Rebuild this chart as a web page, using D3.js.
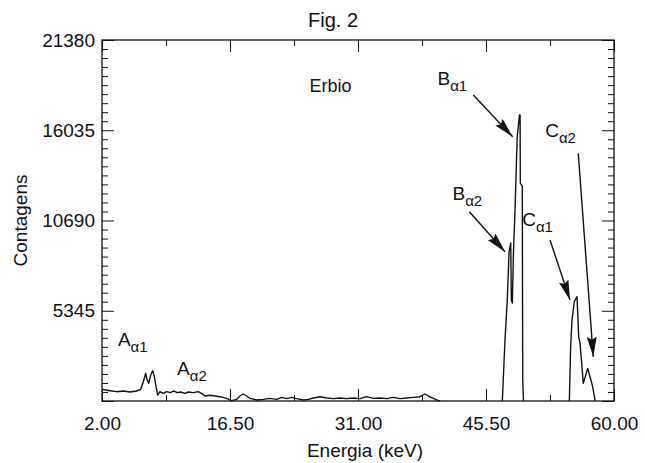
<!DOCTYPE html>
<html>
<head>
<meta charset="utf-8">
<script src="https://cdn.jsdelivr.net/npm/d3@7"></script>
<style>
  body { margin: 0; background: #fff; }
  svg { font-family: 'Liberation Sans', Arial, Helvetica, sans-serif; }
  .axis text { font-size: 19px; fill: #111; }
  .axis line, .axis path { stroke: #111; }
</style>
</head>
<body>
<svg id="chart" width="645" height="463"></svg>
<script>
/* axis ranges and tick values */
const xDomain = [2, 60]
const yDomain = [0, 21380]
const xMajor = [2, 16.5, 31, 45.5, 60]
const xMinor = [9.25, 23.75, 38.25, 52.75]
const yMajor = [0, 5345, 10690, 16035, 21380]
const yMinorStep = 534.5

/* spectrum: [energy keV, counts] */
const lowEnergy = [
  [2.0, 693], [2.91, 610], [3.66, 552], [4.41, 592], [5.17, 533], [5.93, 592],
  [6.38, 693], [6.68, 1143], [6.95, 1640], [7.10, 1285], [7.29, 1048], [7.52, 1540],
  [7.74, 1795], [7.93, 1441], [8.12, 848], [8.31, 355], [8.57, 552], [8.94, 454],
  [9.33, 552], [9.70, 493], [10.16, 592], [10.53, 493], [10.91, 533], [11.40, 454],
  [11.78, 533], [12.34, 493], [12.91, 552], [13.29, 454], [13.67, 296], [14.23, 338],
  [14.80, 296], [15.37, 255], [16.12, 158], [16.69, 20], [17.26, 99], [17.63, 296],
  [18.01, 415], [18.39, 296], [18.76, 158], [19.52, 59], [20.27, 99], [21.03, 158],
  [21.79, 99], [22.36, 217], [22.92, 138], [23.49, 217], [24.06, 138], [24.80, 59],
  [25.37, 99], [25.94, 178], [26.70, 255], [27.45, 178], [28.20, 138], [28.96, 178],
  [29.72, 138], [30.47, 178], [31.23, 138], [31.98, 255], [32.74, 158], [33.49, 178],
  [34.25, 138], [35.00, 217], [35.76, 138], [36.51, 178], [37.27, 217], [38.02, 255],
  [38.59, 415], [38.96, 296], [39.53, 158], [40.10, 20], [40.30, 0]
]
const peakB = [
  [47.35, 0], [47.65, 3612], [47.91, 5981], [48.11, 8824], [48.30, 9357],
  [48.37, 5981], [48.48, 5800], [48.62, 8942], [48.79, 11311], [48.98, 14687],
  [49.04, 15634], [49.29, 16937], [49.36, 16937], [49.39, 12910], [49.61, 12732],
  [49.66, 1244], [49.75, 0]
]
const peakC = [
  [54.94, 0], [55.09, 3216], [55.24, 4797], [55.50, 5880], [55.70, 6080],
  [55.81, 6177], [55.89, 5193], [56.00, 3809], [56.15, 3415], [56.34, 2232],
  [56.52, 1047], [56.75, 1441], [57.02, 1934], [57.28, 1441], [57.58, 848],
  [57.85, 59], [57.88, 0]
]

/* peak labels: letter, subscript, label anchor and arrow [from, to] in data units */
const peakLabels = [
  { main: 'A', sub: '\u03b11', at: [3.8, 3280], arrow: null },
  { main: 'A', sub: '\u03b12', at: [10.5, 1540], arrow: null },
  { main: 'B', sub: '\u03b12', at: [41.7, 11900], arrow: [[43.61, 11210], [47.65, 8842]] },
  { main: 'B', sub: '\u03b11', at: [40.0, 18720], arrow: [[44.06, 18121], [48.52, 15652]] },
  { main: 'C', sub: '\u03b11', at: [49.6, 10340], arrow: [[52.75, 9534], [55.01, 5981]] },
  { main: 'C', sub: '\u03b12', at: [52.2, 15640], arrow: [[55.95, 14669], [57.65, 2623]] }
]

/* dimensions */
const margin = { top: 40, left: 102, right: 31, bottom: 62 }
const width = 645 - margin.left - margin.right
const height = 463 - margin.top - margin.bottom

const svg = d3.select('#chart')
const g = svg.append('g').attr('transform', `translate(${margin.left}, ${margin.top})`)

const xScale = d3.scaleLinear().domain(xDomain).range([0, width])
const yScale = d3.scaleLinear().domain(yDomain).range([height, 0])

const yMinor = d3.range(yDomain[0], yDomain[1], yMinorStep).filter((v) => !yMajor.includes(v))

/* fn: draw one side of ticks (inward) */
function tickSide(axisFn, scale, values, size, transform, labels) {
  const ax = axisFn(scale).tickValues(values).tickSizeInner(-size).tickSizeOuter(0)
  if (labels) ax.tickPadding(7).tickFormat(labels)
  else ax.tickFormat('')
  const sel = g.append('g').attr('class', 'axis').attr('transform', transform).call(ax)
  sel.select('.domain').remove()
  return sel
}

/* x axes: bottom with labels, top without */
tickSide(d3.axisBottom, xScale, xMajor, 12, `translate(0, ${height})`, d3.format('.2f'))
  .selectAll('text').attr('dy', '1.15em')
tickSide(d3.axisBottom, xScale, xMinor, 6, `translate(0, ${height})`, null)
tickSide(d3.axisTop, xScale, xMajor, 12, 'translate(0, 0)', null)
tickSide(d3.axisTop, xScale, xMinor, 6, 'translate(0, 0)', null)

/* y axes: left with labels (no zero), right without */
tickSide(d3.axisLeft, yScale, yMajor, 12, 'translate(0, 0)', (d) => (d === 0 ? '' : d))
tickSide(d3.axisLeft, yScale, yMinor, 6, 'translate(0, 0)', null)
tickSide(d3.axisRight, yScale, yMajor, 12, `translate(${width}, 0)`, null)
tickSide(d3.axisRight, yScale, yMinor, 6, `translate(${width}, 0)`, null)

/* frame */
g.append('rect')
  .attr('width', width).attr('height', height)
  .attr('fill', 'none').attr('stroke', '#111').attr('stroke-width', 1.3)

/* spectrum */
const specLine = d3.line().x((d) => xScale(d[0])).y((d) => yScale(d[1]))
g.selectAll('path.spec')
  .data([lowEnergy, peakB, peakC])
  .join('path')
  .attr('class', 'spec')
  .attr('d', specLine)
  .attr('fill', 'none')
  .attr('stroke', '#111')
  .attr('stroke-width', 1.4)
  .attr('stroke-linejoin', 'round')

/* arrowhead marker */
svg.append('defs').append('marker')
  .attr('id', 'head')
  .attr('viewBox', '0 0 20 10')
  .attr('refX', 20).attr('refY', 5)
  .attr('markerWidth', 20).attr('markerHeight', 10)
  .attr('markerUnits', 'userSpaceOnUse')
  .attr('orient', 'auto')
  .append('path').attr('d', 'M0,0 L20,5 L0,10 L3,5 Z').attr('fill', '#111')

/* peak labels and arrows */
peakLabels.forEach((p) => {
  const t = g.append('text')
    .attr('x', xScale(p.at[0])).attr('y', yScale(p.at[1]))
    .attr('font-size', 19).attr('fill', '#111')
  t.append('tspan').text(p.main)
  t.append('tspan').attr('dy', 6).attr('font-size', 15).text(p.sub)
  if (p.arrow) {
    g.append('line')
      .attr('x1', xScale(p.arrow[0][0])).attr('y1', yScale(p.arrow[0][1]))
      .attr('x2', xScale(p.arrow[1][0])).attr('y2', yScale(p.arrow[1][1]))
      .attr('stroke', '#111').attr('stroke-width', 1.4)
      .attr('marker-end', 'url(#head)')
  }
})

/* Erbio label */
g.append('text')
  .attr('x', xScale(27.9)).attr('y', yScale(18300))
  .attr('text-anchor', 'middle').attr('font-size', 18).attr('fill', '#111')
  .text('Erbio')

/* titles */
svg.append('text')
  .attr('x', 333).attr('y', 27)
  .attr('text-anchor', 'middle').attr('font-size', 20).attr('fill', '#111')
  .text('Fig. 2')

svg.append('text')
  .attr('x', 365).attr('y', 457)
  .attr('text-anchor', 'middle').attr('font-size', 19).attr('fill', '#111')
  .text('Energia (keV)')

svg.append('text')
  .attr('transform', `translate(27, ${margin.top + height / 2}) rotate(-90)`)
  .attr('text-anchor', 'middle').attr('font-size', 19).attr('fill', '#111')
  .text('Contagens')
</script>
</body>
</html>
